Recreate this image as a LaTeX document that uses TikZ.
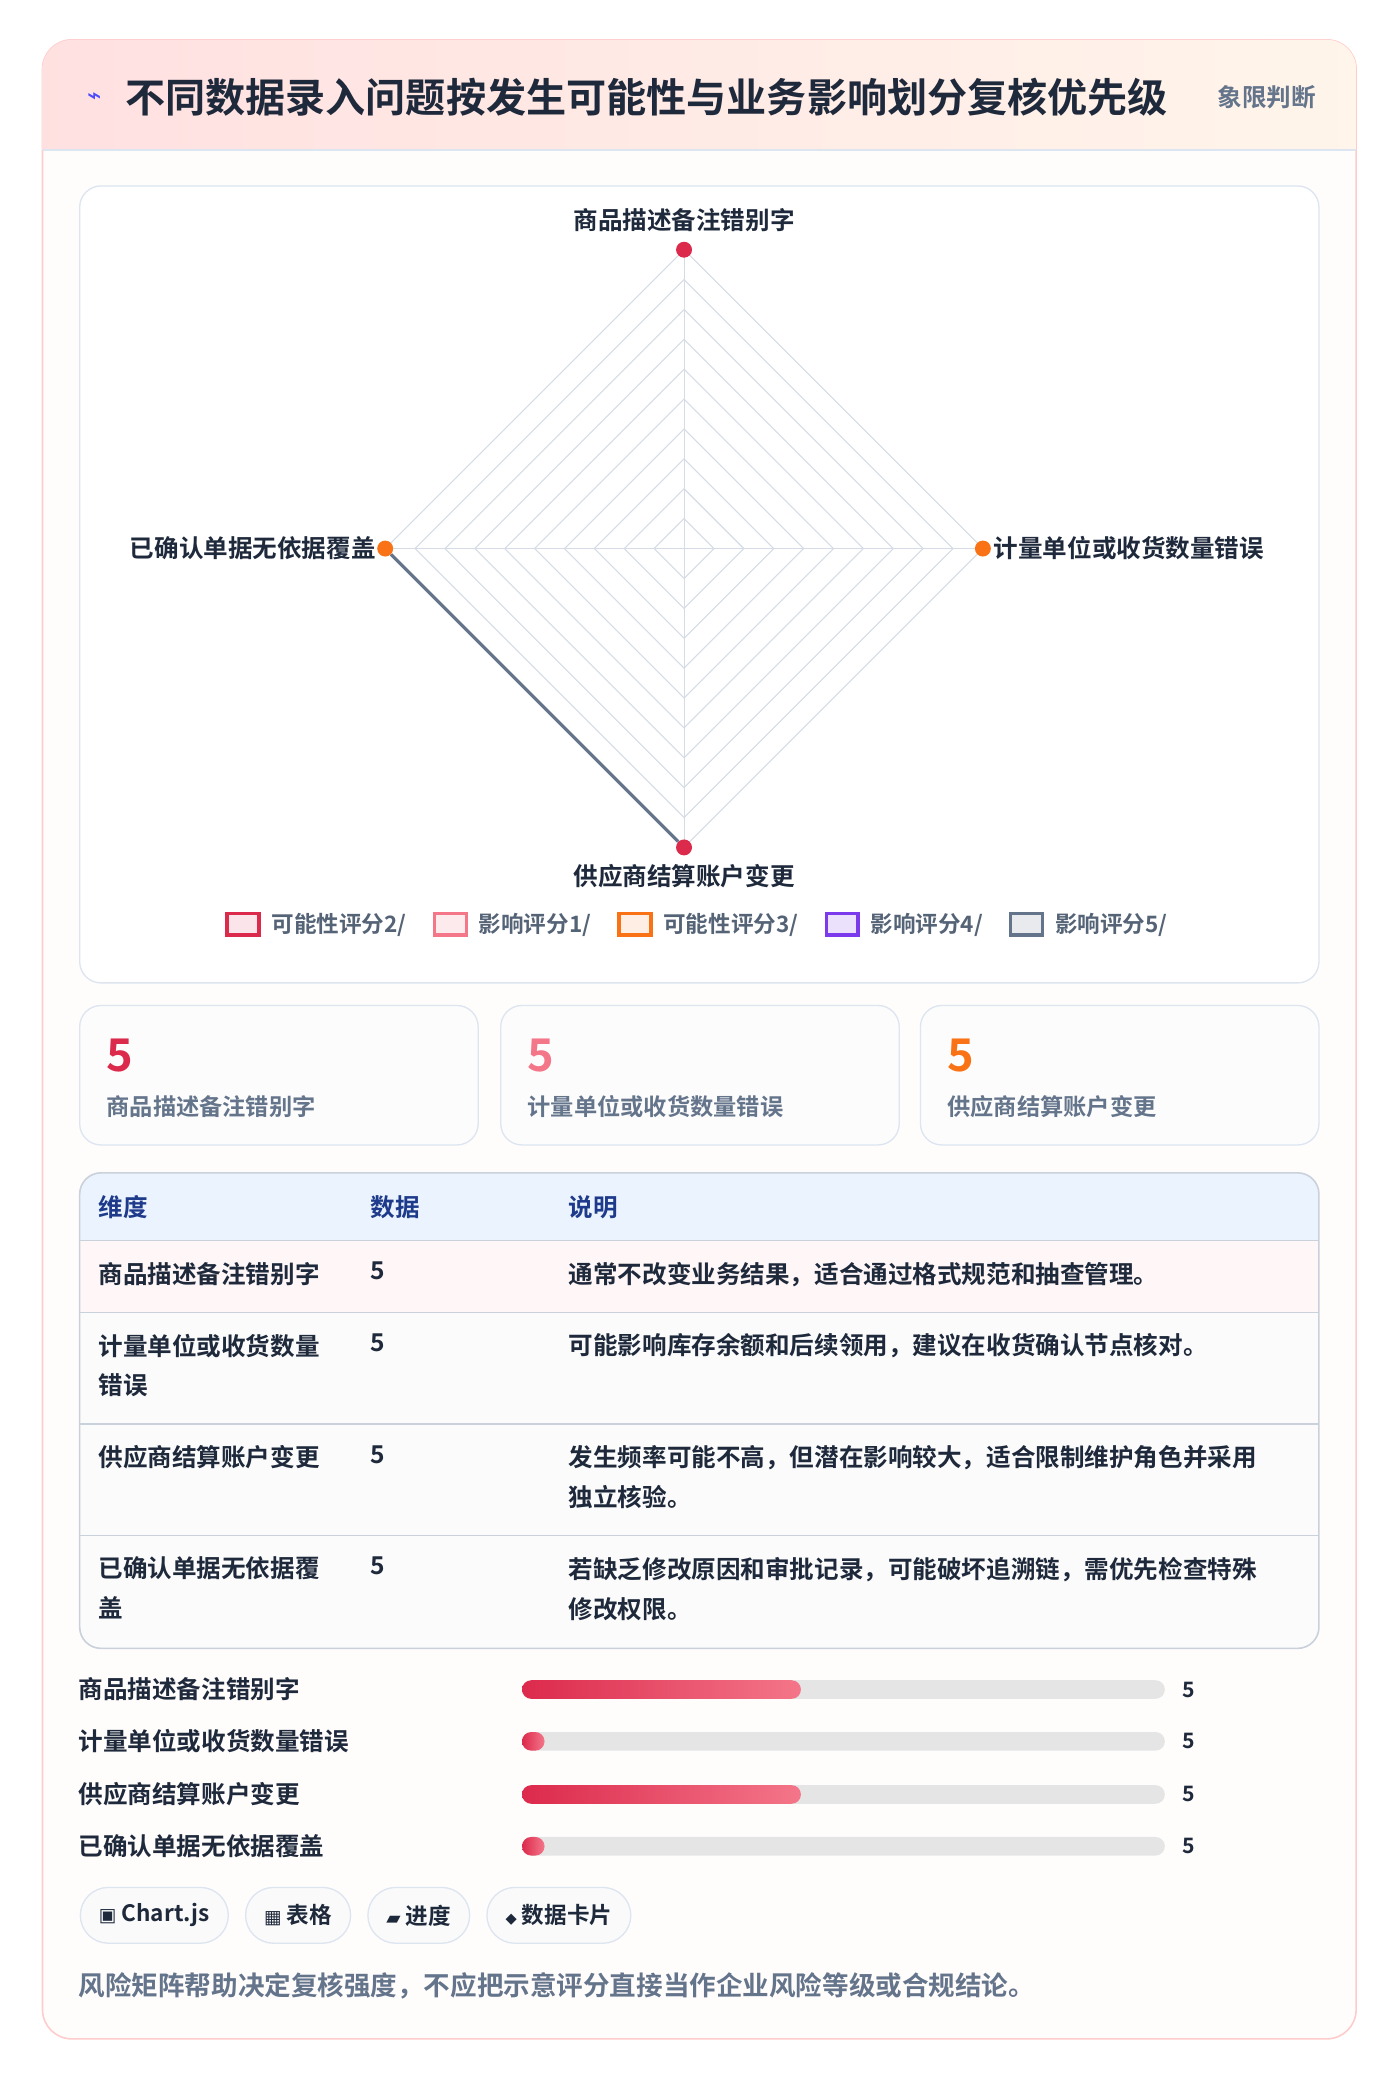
\documentclass[tikz,border=0pt]{standalone}
\usepackage{fontspec}
\setmainfont{Noto Sans CJK SC}[BoldFont={* Bold}]
\newfontfamily\symfont{DejaVu Sans}
\usetikzlibrary{positioning}
\definecolor{crim}{HTML}{DC2A4C}
\definecolor{rose}{HTML}{F47689}
\definecolor{orng}{HTML}{F97316}
\definecolor{purp}{HTML}{7C3AED}
\definecolor{slat}{HTML}{64748B}
\definecolor{ink}{HTML}{1E293B}
\definecolor{navy}{HTML}{1E3A8A}
\definecolor{grid}{HTML}{D5DCE6}
\definecolor{edge}{HTML}{DDE5F0}
\definecolor{head}{HTML}{EAF3FE}
\tikzset{
    panel/.style={draw=edge, line width=1pt, rounded corners=16pt, fill=white},
    lab/.style={font=\bfseries\fontsize{18.5}{20}\selectfont, text=ink, inner sep=0pt},
    cell/.style={font=\bfseries\fontsize{18.5}{30}\selectfont, text=ink, inner sep=0pt,
           anchor=north west, align=left},
    legbox/.style={draw=#1, line width=2.5pt, minimum width=24pt, minimum height=16pt, inner sep=0pt},
    legtxt/.style={font=\bfseries\fontsize{17}{18}\selectfont, text=slat!85!black, inner sep=0pt, right=8pt},
    chip/.style={draw=edge, line width=1pt, fill=gray!4, rounded corners=21pt,
           minimum height=42pt, inner xsep=14pt, font=\bfseries\fontsize{17}{18}\selectfont, text=ink},
    dot/.style={circle, fill=#1, inner sep=0pt, minimum size=12pt},
}
\begin{document}
\begin{tikzpicture}[x=1pt,y=-1pt]
 \useasboundingbox (0,0) rectangle (1054,1569);
 % outer card
 \fill[white] (0,0) rectangle (1054,1569);
 \draw[draw=red!20, line width=1.2pt, fill=red!1, rounded corners=22pt] (32,30) rectangle (1021,1535);
 \begin{scope}
  \clip[rounded corners=22pt] (32,30) rectangle (1021,140);
  \shade[left color=red!12, right color=orange!8] (32,30) rectangle (1021,113);
 \end{scope}
 \draw[edge, line width=1.2pt] (32,113) -- (1021,113);
 \node[text=blue!70, font=\symfont\bfseries\fontsize{18}{18}\selectfont, inner sep=0pt] (icon) at (71,74) {⌁};
 \node[font=\bfseries\fontsize{30.2}{32}\selectfont, text=ink, anchor=west, inner sep=0pt] (title) at (94,73)
   {不同数据录入问题按发生可能性与业务影响划分复核优先级};
 \node[font=\bfseries\fontsize{18.5}{20}\selectfont, text=slat, anchor=east, inner sep=0pt] (quad) at (991,73) {象限判断};

 % radar panel
 \draw[panel] (60,140) rectangle (993,740);
 \foreach \r in {22.5,45,...,225}
   \draw[grid, line width=0.8pt] (515,413-\r) -- (515+\r,413) -- (515,413+\r) -- (515-\r,413) -- cycle;
 \draw[grid, line width=0.8pt] (515,188) -- (515,638) (290,413) -- (740,413);
 \node[dot=crim] (top) at (515,188) {};
 \node[dot=orng] (right) at (740,413) {};
 \node[dot=crim] (bottom) at (515,638) {};
 \node[dot=orng] (left) at (290,413) {};
 \draw[slat, line width=2.5pt] (left) -- (bottom);
 \node[lab, above=7pt of top] {商品描述备注错别字};
 \node[lab, anchor=west] at (748,413) {计量单位或收货数量错误};
 \node[lab, below=6pt of bottom] {供应商结算账户变更};
 \node[lab, anchor=east] at (283,413) {已确认单据无依据覆盖};
 % legend
 \node[legbox=crim, fill=crim!12] (l1) at (183,696) {};
 \node[legtxt] at (l1.east) {可能性评分2/};
 \node[legbox=rose, fill=rose!15] (l2) at (339,696) {};
 \node[legtxt] at (l2.east) {影响评分1/};
 \node[legbox=orng, fill=orng!12] (l3) at (478,696) {};
 \node[legtxt] at (l3.east) {可能性评分3/};
 \node[legbox=purp, fill=purp!15] (l4) at (634,696) {};
 \node[legtxt] at (l4.east) {影响评分4/};
 \node[legbox=slat, fill=slat!15] (l5) at (773,696) {};
 \node[legtxt] at (l5.east) {影响评分5/};

 % stat cards
 \foreach \x/\c/\t in {60/crim/商品描述备注错别字, 377/rose/计量单位或收货数量错误, 693/orng/供应商结算账户变更} {
   \draw[panel, fill=gray!2] (\x,757) rectangle (\x+300,862);
   \node[font=\bfseries\fontsize{34}{36}\selectfont, text=\c, anchor=west, inner sep=0pt] at (\x+20,795) {5};
   \node[font=\bfseries\fontsize{17.5}{18}\selectfont, text=slat, anchor=west, inner sep=0pt] at (\x+20,833) {\t};
 }

 % table
 \begin{scope}
  \clip[rounded corners=16pt] (60,883) rectangle (993,1241);
  \fill[head] (60,883) rectangle (993,934);
  \fill[red!3] (60,934) rectangle (993,988);
  \fill[gray!3] (60,988) rectangle (993,1241);
 \end{scope}
 \draw[edge!80!gray, line width=1.2pt, rounded corners=16pt] (60,883) rectangle (993,1241);
 \foreach \y in {934,988,1072,1156} \draw[edge!80!gray, line width=1pt] (60,\y) -- (993,\y);
 \foreach \x/\t in {74/维度, 279/数据, 428/说明}
   \node[cell, anchor=west, text=navy] at (\x,909) {\t};
 \foreach \y/\a/\b in {950/商品描述备注错别字/通常不改变业务结果，适合通过格式规范和抽查管理。,
     1004/{计量单位或收货数量\\错误}/可能影响库存余额和后续领用，建议在收货确认节点核对。,
     1088/供应商结算账户变更/{发生频率可能不高，但潜在影响较大，适合限制维护角色并采用\\独立核验。},
     1172/{已确认单据无依据覆\\盖}/{若缺乏修改原因和审批记录，可能破坏追溯链，需优先检查特殊\\修改权限。}} {
   \node[cell] at (74,\y) {\a};
   \node[cell] at (279,\y) {5};
   \node[cell] at (428,\y) {\b};
 }

 % progress bars
 \foreach \y/\w/\t in {1272/210/商品描述备注错别字, 1311/17/计量单位或收货数量错误,
     1351/210/供应商结算账户变更, 1390/17/已确认单据无依据覆盖} {
   \node[lab, anchor=west] at (59,\y) {\t};
   \fill[gray!20, rounded corners=7pt] (393,\y-7) rectangle (877,\y+7);
   \shade[left color=crim, right color=rose, rounded corners=7pt] (393,\y-7) rectangle (393+\w,\y+7);
   \node[lab, font=\bfseries\fontsize{16}{18}\selectfont] at (895,\y) {5};
 }

 % chips
 \node[chip, anchor=west] (c1) at (60,1442) {{\symfont\fontsize{14}{14}\selectfont ▣} Chart.js};
 \node[chip, right=12pt of c1] (c2) {{\symfont\fontsize{14}{14}\selectfont ▦} 表格};
 \node[chip, right=12pt of c2] (c3) {{\symfont\fontsize{14}{14}\selectfont ▰} 进度};
 \node[chip, right=12pt of c3] (c4) {{\symfont\fontsize{11}{11}\selectfont ◆} 数据卡片};
 \node[font=\bfseries\fontsize{20}{22}\selectfont, text=slat, anchor=west, inner sep=0pt] (note) at (59,1495)
   {风险矩阵帮助决定复核强度，不应把示意评分直接当作企业风险等级或合规结论。};
\end{tikzpicture}
\end{document}
